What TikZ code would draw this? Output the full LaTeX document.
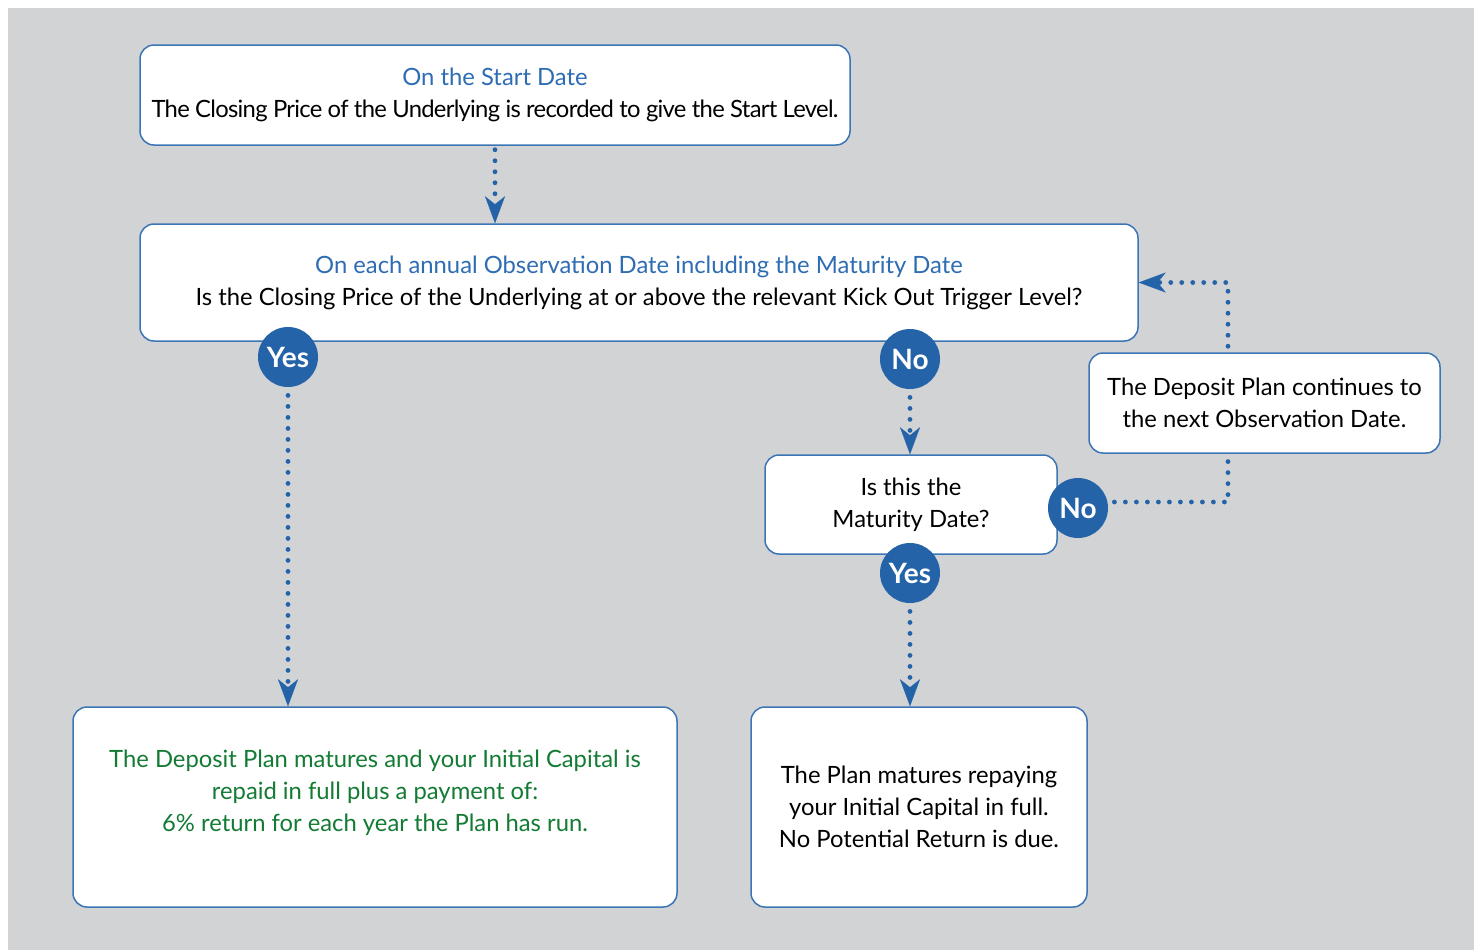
\documentclass[tikz,border=0pt]{standalone}
\usepackage{fontspec}
\setmainfont{Lato}
\usetikzlibrary{arrows.meta}
\definecolor{panel}{HTML}{D1D3D4}
\definecolor{edgeblue}{HTML}{3C75B5}
\definecolor{flowblue}{HTML}{2563A8}
\definecolor{titleblue}{HTML}{2E6DB4}
\definecolor{textgreen}{HTML}{137B34}
\begin{document}
\begin{tikzpicture}[x=0.5pt, y=-0.5pt,
  box/.style={draw=edgeblue, line width=0.75pt, fill=white, rounded corners=7pt,
    align=center, font=\fontsize{11.9}{16}\selectfont, inner sep=0pt},
  badge/.style={circle, fill=flowblue, text=white, minimum size=30pt, inner sep=0pt,
    font=\fontsize{14}{14}\selectfont\bfseries},
  flow/.style={draw=flowblue, line width=2.4pt, line cap=round,
    dash pattern=on 0pt off 5.5pt},
  tip/.style={flow, -{Stealth[length=13.5pt, width=10pt, inset=4pt, line width=0.1pt]}}]
\useasboundingbox (0,0) rectangle (1480,950);
\fill[panel] (8,8) rectangle (1474,950);
\node[box, minimum width=355pt, minimum height=50pt] (start) at (495,95)
  {\textcolor{titleblue}{On the Start Date}\\
   {\addfontfeatures{LetterSpace=-3}The Closing Price of the Underlying is recorded to give the Start Level.}};
\node[box, minimum width=499pt, minimum height=58.5pt] (obs) at (639,282.5)
  {\textcolor{titleblue}{On each annual Observation Date including the Maturity Date}\\
   Is the Closing Price of the Underlying at or above the relevant Kick Out Trigger Level?};
\node[box, minimum width=175.5pt, minimum height=50pt] (cont) at (1264.5,403)
  {The Deposit Plan continues to\\ the next Observation Date.};
\node[box, minimum width=146pt, minimum height=49.5pt] (mat) at (911,504.5)
  {Is this the\\ Maturity Date?};
\node[box, minimum width=302pt, minimum height=100pt, text=textgreen] (kick) at (375,807)
  {The Deposit Plan matures and your Initial Capital is\\
   repaid in full plus a payment of:\\
   6\% return for each year the Plan has run.\\ \mbox{}};
\node[box, minimum width=168pt, minimum height=100pt] (repay) at (919,807)
  {The Plan matures repaying\\ your Initial Capital in full.\\ No Potential Return is due.};
\node[badge] (yes1) at (288,357) {Yes};
\node[badge] (no1) at (910,359) {No};
\node[badge] (yes2) at (910,573) {Yes};
\node[badge] (no2) at (1078,508) {No};
\coordinate (turn) at (1228,502);
\path[tip] ([yshift=-2pt]start.south) -- (start.south |- obs.north);
\path[tip] ([yshift=-4pt]yes1.south) -- (yes1 |- kick.north);
\path[tip] ([yshift=-4pt]no1.south) -- (no1 |- mat.north);
\path[tip] ([yshift=-4pt]yes2.south) -- (yes2 |- repay.north);
\path[flow] ([xshift=3pt]no2.east |- turn) -- (turn) -- (turn |- cont.south);
\path[tip] ([yshift=3pt]turn |- cont.north) -- (turn |- obs.east) -- (obs.east);
\end{tikzpicture}
\end{document}
